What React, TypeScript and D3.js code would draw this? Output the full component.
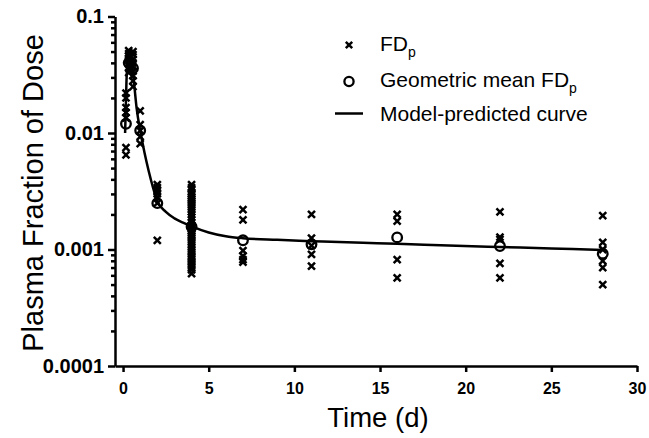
import React, { useRef, useEffect } from "react";
import * as d3 from "d3";

// sampling times (d) and individual FDp values at each time
const sampleTimes = [0.17, 0.33, 0.58, 1, 2, 4, 7, 11, 16, 22, 28];
const fdValues = [
  [0.022, 0.02, 0.0165, 0.015, 0.0135, 0.0075, 0.0065],
  [0.051, 0.048, 0.046, 0.044, 0.042, 0.039, 0.036, 0.033],
  [0.05, 0.047, 0.043, 0.04, 0.037, 0.034, 0.031, 0.028, 0.025],
  [0.0155, 0.0118, 0.0105, 0.0093, 0.0081],
  [0.0036, 0.0034, 0.0032, 0.003, 0.0028, 0.0025, 0.0012],
  [
    0.0036, 0.0034, 0.0033, 0.0031, 0.003, 0.0029, 0.0028, 0.0027, 0.0026, 0.0025,
    0.0024, 0.0023, 0.0022, 0.0021, 0.002, 0.0019, 0.0018, 0.0017, 0.0016, 0.0015,
    0.00145, 0.0014, 0.00135, 0.0013, 0.00125, 0.0012, 0.00115, 0.0011, 0.00105, 0.001,
    0.00096, 0.00092, 0.00088, 0.00085, 0.00082, 0.00078, 0.00075, 0.00072, 0.0007,
    0.00067, 0.00062,
  ],
  [0.0022, 0.0018, 0.00098, 0.00088, 0.00082, 0.00078],
  [0.002, 0.00125, 0.00108, 0.00091, 0.00072],
  [0.002, 0.00175, 0.00082, 0.00057],
  [0.0021, 0.00128, 0.00122, 0.00076, 0.00057],
  [0.00195, 0.00115, 0.001, 0.0008, 0.0007, 0.0005],
];
const geoMeans = [0.012, 0.04, 0.036, 0.0105, 0.0025, 0.00157, 0.0012, 0.00111, 0.00127, 0.00107, 0.00092];

// model-predicted curve
const curveTimes = [0.12, 0.2, 0.3, 0.38, 0.5, 0.65, 0.8, 1, 1.25, 1.5, 1.75, 2, 2.5, 3, 3.5, 4, 5, 6, 7, 9, 11, 14, 16, 19, 22, 25, 28];
const curveValues = [
  0.01, 0.028, 0.045, 0.048, 0.04, 0.026, 0.016, 0.0105, 0.0068, 0.0047, 0.0034, 0.0026,
  0.0021, 0.00185, 0.0017, 0.00158, 0.0014, 0.0013, 0.00125, 0.00121, 0.00118, 0.00114,
  0.00112, 0.00108, 0.00105, 0.00102, 0.00099,
];

const xTicks = [0, 5, 10, 15, 20, 25, 30];
const yTicks = [0.0001, 0.001, 0.01, 0.1];
const yTickLabels = ["0.0001", "0.001", "0.01", "0.1"];

const W = 649;
const H = 438;
const FONT = "'Liberation Sans', Arial, sans-serif";

const crossPath = (s: number) => `M${-s},${-s}L${s},${s}M${-s},${s}L${s},${-s}`;

const App = () => {
  const svgRef = useRef<SVGSVGElement>(null);

  useEffect(() => {
    const svg = d3.select(svgRef.current);
    svg.selectAll("*").remove();

    const x = d3.scaleLinear().domain([-0.47, 30]).range([115, 637]);
    const y = d3.scaleLog().domain([0.0001, 0.1]).range([366, 16.5]);

    // y axis: minor ticks then major
    const minor: number[] = [];
    [0.0001, 0.001, 0.01].forEach((d) => {
      for (let k = 2; k <= 9; k++) minor.push(d * k);
    });
    svg.append("g")
      .attr("transform", "translate(115,0)")
      .call(d3.axisLeft(y).tickValues(minor).tickSize(4).tickSizeOuter(0).tickFormat(() => ""))
      .call((g) => g.select(".domain").remove());

    const yAxis = svg.append("g")
      .attr("transform", "translate(115,0)")
      .call(
        d3.axisLeft(y)
          .tickValues(yTicks)
          .tickSize(7)
          .tickSizeOuter(0)
          .tickPadding(4)
          .tickFormat((d, i) => yTickLabels[i])
      );

    const xAxis = svg.append("g")
      .attr("transform", "translate(0,366)")
      .call(d3.axisBottom(x).tickValues(xTicks).tickSize(6).tickSizeOuter(0).tickPadding(11).tickFormat(d3.format("d")));

    svg.selectAll(".tick line, .domain")
      .attr("stroke", "#000")
      .attr("stroke-width", 2.5);
    yAxis.selectAll("text")
      .attr("font-family", FONT)
      .attr("font-weight", "bold")
      .attr("font-size", 20)
      .attr("fill", "#000");
    xAxis.selectAll("text")
      .attr("font-family", FONT)
      .attr("font-weight", "bold")
      .attr("font-size", 16)
      .attr("fill", "#000");

    // model curve
    const line = d3.line<number>()
      .x((d, i) => x(curveTimes[i]))
      .y((d) => y(d))
      .curve(d3.curveMonotoneX);
    svg.append("path")
      .attr("d", line(curveValues))
      .attr("fill", "none")
      .attr("stroke", "#000")
      .attr("stroke-width", 2.5);

    // individual points
    const pts = sampleTimes.flatMap((t, i) => fdValues[i].map((v) => ({ t, v })));
    svg.append("g")
      .selectAll("path")
      .data(pts)
      .enter()
      .append("path")
      .attr("transform", (d) => `translate(${x(d.t)},${y(d.v)})`)
      .attr("d", crossPath(3.5))
      .attr("stroke", "#000")
      .attr("stroke-width", 2.5);

    // geometric means
    svg.append("g")
      .selectAll("circle")
      .data(sampleTimes)
      .enter()
      .append("circle")
      .attr("cx", (d) => x(d))
      .attr("cy", (d, i) => y(geoMeans[i]))
      .attr("r", 4.8)
      .attr("fill", "none")
      .attr("stroke", "#000")
      .attr("stroke-width", 2.3);

    // legend
    const lg = svg.append("g").attr("font-family", FONT).attr("font-size", 21).attr("fill", "#000");
    lg.append("path")
      .attr("transform", "translate(349,45)")
      .attr("d", crossPath(3.2))
      .attr("stroke", "#000")
      .attr("stroke-width", 2.5);
    lg.append("circle")
      .attr("cx", 349)
      .attr("cy", 81.5)
      .attr("r", 4.6)
      .attr("fill", "none")
      .attr("stroke", "#000")
      .attr("stroke-width", 2.3);
    lg.append("line")
      .attr("x1", 335)
      .attr("x2", 363)
      .attr("y1", 113.5)
      .attr("y2", 113.5)
      .attr("stroke", "#000")
      .attr("stroke-width", 2.5);

    const t1 = lg.append("text").attr("x", 380).attr("y", 51);
    t1.append("tspan").text("FD");
    t1.append("tspan").attr("font-size", 14).attr("dy", 6).text("p");
    const t2 = lg.append("text").attr("x", 380).attr("y", 87);
    t2.append("tspan").text("Geometric mean FD");
    t2.append("tspan").attr("font-size", 14).attr("dy", 6).text("p");
    lg.append("text").attr("x", 380).attr("y", 121).text("Model-predicted curve");

    // axis titles
    svg.append("text")
      .attr("x", 378)
      .attr("y", 427)
      .attr("text-anchor", "middle")
      .attr("font-family", FONT)
      .attr("font-size", 27.5)
      .text("Time (d)");
    svg.append("text")
      .attr("transform", "translate(43,193) rotate(-90)")
      .attr("text-anchor", "middle")
      .attr("font-family", FONT)
      .attr("font-size", 29)
      .text("Plasma Fraction of Dose");
  }, []);

  return (
    <div style={{ position: "absolute", left: 0, top: 0 }}>
      <svg ref={svgRef} width={W} height={H} style={{ display: "block", background: "#fff" }}></svg>
    </div>
  );
};

export default App;
